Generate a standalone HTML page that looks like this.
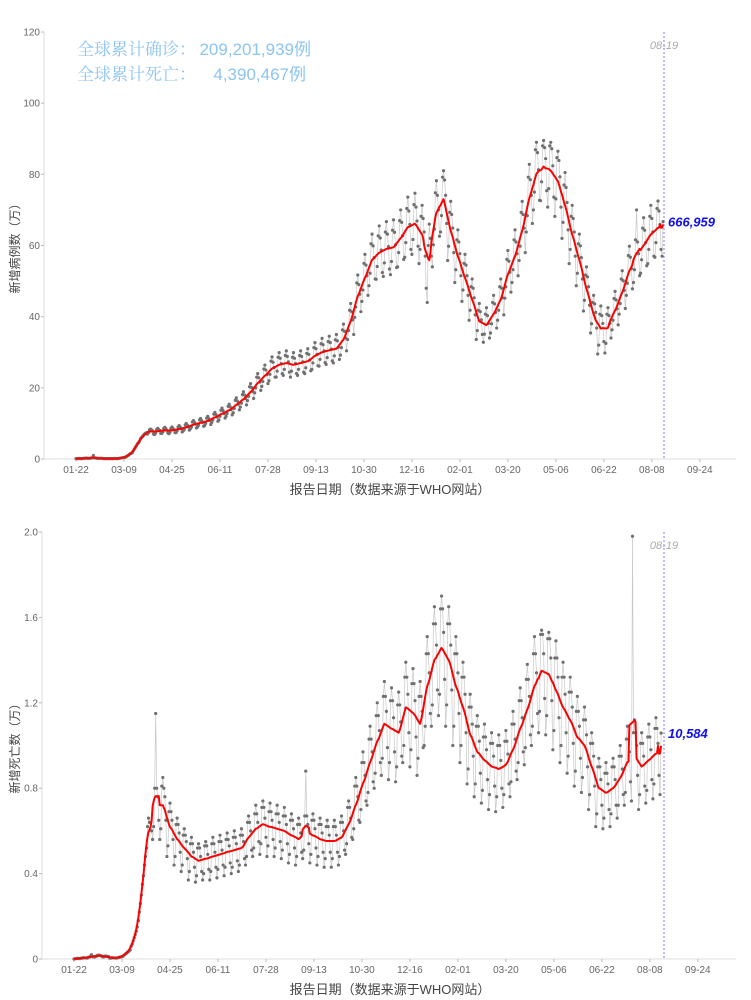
<!DOCTYPE html>
<html><head><meta charset="utf-8">
<style>
body{margin:0;background:#fff;}
svg{display:block;font-family:"Liberation Sans","Noto Sans CJK SC",sans-serif;}
</style></head>
<body>
<svg id="chart" width="751" height="1000" xmlns="http://www.w3.org/2000/svg"></svg>
<script>
const xTickLabels=["01-22","03-09","04-25","06-11","07-28","09-13","10-30","12-16","02-01","03-20","05-06","06-22","08-08","09-24"];
const caseTicks=[0,20,40,60,80,100,120];
const deathTicks=[0,0.4,0.8,1.2,1.6,2.0];
const caseWeeks=[
[0.1,0.1,0.1,0.2,0.1,0.1,0.1],[0.2,0.2,0.2,0.3,0.2,0.2,0.2],[0.2,0.3,0.3,1.0,0.3,0.3,0.2],[0.2,0.2,0.2,0.2,0.2,0.2,0.1],
[0.1,0.1,0.1,0.1,0.1,0.1,0.1],[0.1,0.1,0.1,0.2,0.1,0.1,0.1],[0.2,0.2,0.3,0.3,0.4,0.4,0.5],[0.6,0.8,1.0,1.2,1.5,1.6,1.7],
[2.2,2.7,3.2,3.7,4.2,4.5,4.9],[5.6,6.0,6.3,6.6,7.0,7.2,7.4],[7.0,7.4,8.2,8.4,8.2,7.9,7.0],[6.9,7.3,8.3,8.6,8.3,8.0,7.2],
[7.2,7.6,8.6,8.9,8.5,8.1,7.3],[7.1,7.5,8.6,9.0,8.6,8.2,7.4],[7.4,7.9,9.0,9.4,9.0,8.5,7.6],[7.9,8.3,9.6,10.0,9.5,9.0,8.1],
[8.5,9.0,10.4,10.8,10.3,9.8,8.7],[9.0,9.5,11.0,11.4,10.8,10.3,9.2],[9.4,10.0,11.5,12.0,11.4,10.8,9.7],[10.3,11,12.6,13.1,12.5,11.8,10.6],
[11,12,13.7,14.3,13.6,12.8,11.5],[12,12.8,14.8,15.4,14.7,13.9,12.4],[13,14.2,16.5,17.2,16.3,15.4,13.8],[14.6,15.7,18.1,18.9,18,17,15.2],
[16.4,17.6,20.3,21.2,20.1,19,17],[18.6,20,23,24,22.8,21.6,19.3],[20.4,21.8,25.3,26.4,25,23.7,21.2],[22,23.8,27.5,28.7,27.2,25.7,23],
[23,24.7,28.6,29.9,28.3,26.8,24],[23.5,25.2,29.1,30.4,28.8,27.3,24.4],[23,24.7,28.6,29.9,28.3,26.8,24],[23.5,25.2,29.1,30.4,28.8,27.3,24.4],
[24,25.6,29.7,31,29.4,27.8,24.8],[25.2,27,31.3,32.7,31,29.4,26.2],[26.1,28,32.4,33.9,32.1,30.4,27.1],[26.6,28.5,33,34.5,32.7,30.9,27.6],
[27,29,33.5,35,33.2,31.4,28],[29.2,31.3,36.3,37.9,35.9,34,30.4],[33.6,36.1,41.8,43.7,41.4,39.1,35],[39.8,42.7,49.5,51.7,49,46.3,41.4],
[44.3,47.5,55,57.5,54.5,51.5,46],[48.7,52.2,60.5,63.2,59.9,56.6,50.6],[50.5,54.1,62.7,65.5,62.1,58.7,52.4],[51.3,55.1,63.8,66.7,63.2,59.7,53.4],
[51.8,55.5,64.3,67.2,63.7,60.2,53.8],[54,58,67,70,66.5,62.8,56.1],[56.7,60.8,70.4,73.6,69.7,65.9,58.9],[57.5,61.7,71.5,74.7,70.8,66.9,59.8],
[54.9,58.9,68.2,71.3,67.6,63.8,57],[48,44,60,66,62,57,54],[60.2,64.6,74.8,78.2,74.1,70,62.6],[63.8,68.4,79.2,81,78.4,74.1,66.2],
[55.8,59.8,69.3,72.4,68.7,64.9,58],[49.6,53.2,61.6,64.4,61,57.7,51.5],[44.3,47.5,55,57.5,54.5,51.5,46],[39,41.8,48.4,50.6,48,45.3,40.5],
[33.6,36.1,41.8,43.7,41.4,39.1,35],[32.8,35.1,40.7,42.5,40.3,38.1,34],[35.4,38,44,46,43.6,41.2,36.8],[39,41.8,48.4,50.6,48,45.3,40.5],
[45.2,48.4,56.1,58.6,55.6,52.5,46.9],[49.6,53.2,61.6,64.4,61,57.7,51.5],[55.8,59.8,69.3,72.4,68.7,64.9,58],[63.8,68.4,79.2,82.8,78.5,74.1,66.2],
[70,75,86.9,89,86.1,81.3,72.7],[72.6,77.9,88,89.5,87.5,84.4,75.4],[70.8,76,88,89,87.2,82.4,73.6],[68.2,73.1,84.7,86.5,83.9,79.3,70.8],
[62,66.5,77,80.5,76.3,72.1,64.4],[54.9,58.9,68.2,71.3,67.6,63.8,57],[48.7,52.2,60.5,63.2,59.9,56.6,50.6],[41.6,44.6,51.7,54,51.2,48.4,43.2],
[35.4,38,44,46,43.6,41.2,36.8],[29.5,32,40.7,43,40.3,38.1,33],[29.8,32.5,40.7,42.5,40.3,38.1,34],[36.3,39,45.1,47.1,44.7,42.2,37.7],
[40.7,43.7,50.6,52.9,50.1,47.4,42.3],[46,49.4,57.2,59.8,56.7,53.5,47.8],[49.6,53.2,61.6,70,61,57.7,51.5],[52.2,56,64.9,67.8,64.3,60.8,54.3],
[54.9,58.9,68.2,71.3,67.6,63.8,57],[56.7,60.8,70.4,72.5,69.7,65.9,58.9],[57,66.7]];
const deathWeeks=[
[0,0.1,0.2,0.3,0.3,0.2,0.2],[0.4,0.4,0.6,0.6,0.5,0.5,0.4],[0.8,0.9,1.1,2.0,1.1,1,0.9],[1.2,1.3,1.7,1.8,1.7,1.6,1.4],
[1,1,1.3,1.4,1.3,1.2,1.1],[0.4,0.4,0.6,0.6,0.5,0.5,0.4],[0.5,0.6,0.8,0.9,1,1.1,1.3],[1.8,2.2,2.6,3,3.4,3.8,4.2],
[6,7,8.5,10,11.5,13,15],[18,22,26,30,35,39,44],[48,52,62,66,64,64,60],[56,62,80,115,80,76,65],
[56,61,81,85,80,76,65],[48,53,69,73,69,65,56],[44,48,63,66,63,59,50],[41,44,58,61,58,55,47],
[37,41,54,57,54,50,43],[36,39,52,54,52,48,41],[37,40,53,55,53,49,42],[37,41,54,57,54,50,43],
[38,42,55,58,55,51,44],[39,43,56,59,56,53,45],[40,43,57,60,57,54,46],[41,44,58,61,58,55,47],
[44,48,64,67,64,60,51],[48,52,68,72,68,64,55],[49,54,71,74,71,66,57],[48,53,69,73,69,65,56],
[48,52,68,72,68,64,55],[47,51,67,71,67,63,54],[45,49,65,68,65,61,52],[44,48,63,66,63,59,50],
[47,51,67,88,67,63,54],[45,49,65,68,65,61,52],[44,48,63,66,63,59,50],[43,47,62,65,62,58,50],
[43,47,62,65,62,58,50],[44,48,64,67,64,60,51],[49,54,71,74,71,66,57],[56,61,81,85,81,76,65],
[64,70,92,97,92,86,74],[72,78,103,109,103,97,83],[80,87,114,120,114,107,92],[86,94,123,130,123,116,99],
[84,92,121,127,121,113,97],[83,90,119,125,119,111,95],[92,100,132,139,132,124,106],[90,98,129,136,129,121,104],
[86,94,123,130,123,116,99],[100,109,143,151,143,134,115],[109,119,157,165,157,147,126],[114,124,164,170,164,153,131],
[109,119,157,165,157,147,126],[100,109,143,151,143,134,115],[92,100,132,139,132,124,106],[82,89,118,124,118,110,95],
[76,82,109,114,109,102,87],[73,79,104,110,104,98,84],[70,77,101,106,101,95,81],[69,76,100,105,100,93,80],
[71,77,102,107,102,96,82],[76,83,110,116,110,103,88],[84,92,121,127,121,113,97],[91,99,131,138,131,123,105],
[100,109,143,151,143,134,115],[106,116,152,154,152,143,122],[105,114,150,153,150,141,121],[98,107,141,149,141,132,113],
[92,100,132,139,132,124,106],[87,95,125,132,125,118,101],[81,88,116,123,116,109,94],[78,85,112,118,112,105,90],
[70,77,101,106,101,95,81],[62,68,90,94,90,84,72],[61,66,87,92,87,82,70],[62,68,90,94,90,84,72],
[66,72,95,100,95,89,77],[72,78,103,109,103,97,83],[74,198,106,112,106,100,86],[70,77,101,106,101,95,81],
[73,79,104,110,104,98,84],[75,82,108,113,108,101,86],[77,105.8]];
const caseLabel="666,959", deathLabel="10,584";

const NS="http://www.w3.org/2000/svg";
const svg=document.getElementById('chart');
function mk(tag,attrs,parent){const e=document.createElementNS(NS,tag);for(const k in attrs)e.setAttribute(k,attrs[k]);(parent||svg).appendChild(e);return e;}
function txt(s,attrs,parent){const e=mk('text',attrs,parent);e.textContent=s;return e;}

function panel(cfg){
  const g=mk('g',{});
  
  
  const daily=cfg.weeks.flat().map(v=>v*cfg.scale);
  const X=i=>cfg.x0+1.021*i;
  const Y=v=>cfg.y0-(v/cfg.ymax)*(cfg.y0-cfg.ytop);
  const ax=mk('line',{x1:cfg.ax,y1:cfg.ytop,x2:cfg.ax,y2:cfg.y0,stroke:'#ddd','stroke-width':1},g);
  
  const bx=mk('line',{x1:cfg.ax,y1:cfg.y0,x2:736,y2:cfg.y0,stroke:'#ddd','stroke-width':1},g);
  
  cfg.ticks.forEach(t=>{
    const y=Y(t);
    mk('line',{x1:cfg.ax-3,y1:y,x2:cfg.ax,y2:y,stroke:'#bbb'},g);
    const l=txt(cfg.fmt(t),{x:cfg.ax-4,y:y+3.5,'font-size':10,fill:'#666','text-anchor':'end'},g);
    
  });
  xTickLabels.forEach((s,k)=>{
    const x=X(47*k);
    mk('line',{x1:x,y1:cfg.y0,x2:x,y2:cfg.y0+3,stroke:'#bbb'},g);
    const l=txt(s,{x:x,y:cfg.y0+14,'font-size':10,fill:'#666','text-anchor':'middle'},g);
    
  });
  const xt=txt('报告日期（数据来源于WHO网站）',{x:390,y:cfg.y0+35,'font-size':13,fill:'#444','text-anchor':'middle'},g);
  
  const yc=(cfg.ytop+cfg.y0)/2;
  const yt=txt(cfg.ytitle,{x:0,y:0,'font-size':12,fill:'#444','text-anchor':'middle',transform:`translate(19,${yc}) rotate(-90)`},g);
  
  const vx=cfg.vx;
  const vl=mk('line',{x1:vx,y1:cfg.ytop,x2:vx,y2:cfg.y0,stroke:'#77f','stroke-width':1,'stroke-dasharray':'2,2'},g);
  
  const dl=txt('08-19',{x:vx,y:cfg.ytop+17,'font-size':11,fill:'#aaa','font-style':'italic','text-anchor':'middle'},g);
  
  const dp=mk('polyline',{points:daily.map((v,i)=>X(i)+','+Y(v)).join(' '),fill:'none',stroke:'#c8c8c8','stroke-width':0.7},g);
  
  daily.forEach((v,i)=>{
    const c=mk('circle',{cx:X(i),cy:Y(v),r:1.6,fill:'#707070'},g);
    
    
  });
  const n=daily.length;
  const avg=daily.map((v,i)=>{const h=Math.min(3,i,n-1-i);let s=0,c=0;for(let j=i-h;j<=i+h;j++){s+=daily[j];c++;}
    if(h<3){s=0;c=0;for(let j=Math.max(0,i-6);j<=i;j++){s+=daily[j];c++;}}
    return s/c;});
  const ap=mk('polyline',{points:avg.map((v,i)=>X(i)+','+Y(v)).join(' '),fill:'none',stroke:'#ff0000','stroke-width':2,'stroke-linejoin':'round'},g);
  
  const last=daily[n-1];
  const vlab=txt(cfg.label,{x:vx+4,y:Y(last)+5,'font-size':13,fill:'#1010ee','font-weight':'bold','font-style':'italic'},g);
  
}
panel({name:'new-cases-chart',weeks:caseWeeks,scale:1,x0:76,ax:44,y0:459,ytop:32,ymax:120,ticks:caseTicks,fmt:t=>String(t),ytitle:'新增病例数（万）',label:caseLabel,vx:664});
panel({name:'new-deaths-chart',weeks:deathWeeks,scale:0.01,x0:74,ax:42,y0:959,ytop:532,ymax:2,ticks:deathTicks,fmt:t=>t===0?'0':t.toFixed(1),ytitle:'新增死亡数（万）',label:deathLabel,vx:664});
const serif='"Liberation Serif","Noto Serif CJK SC",serif';
const l1=txt('全球累计确诊：',{x:77,y:55,'font-size':17,fill:'#8cc4f2','font-family':serif});

const n1=txt('209,201,939例',{x:311,y:55,'font-size':17,fill:'#8cc4f2','text-anchor':'end'});

const l2=txt('全球累计死亡：',{x:77,y:80,'font-size':17,fill:'#8cc4f2','font-family':serif});

const n2=txt('4,390,467例',{x:306,y:80,'font-size':17,fill:'#8cc4f2','text-anchor':'end'});

</script>
</body></html>
